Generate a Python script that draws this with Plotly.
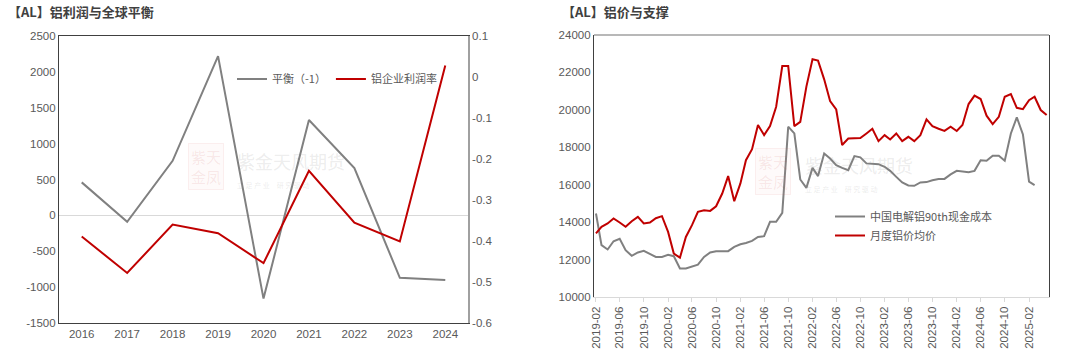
import plotly.graph_objects as go
import pandas as pd

# ---------------- Left chart data ----------------
years = ["2016", "2017", "2018", "2019", "2020", "2021", "2022", "2023", "2024"]
balance_neg = [460, -90, 760, 2220, -1160, 1330, 660, -870, -900]          # 平衡（-1）
profit_rate = [-0.389, -0.478, -0.360, -0.381, -0.454, -0.229, -0.355, -0.401, 0.028]  # 铝企业利润率

left_y_vals = [2500, 2000, 1500, 1000, 500, 0, -500, -1000, -1500]
left_y_text = ["2500", "2000", "1500", "1000", "500", "0", "-500", "-1000", "-1500"]
right_y_vals = [0.1, 0.0, -0.1, -0.2, -0.3, -0.4, -0.5, -0.6]
right_y_text = ["0.1", "0", "-0.1", "-0.2", "-0.3", "-0.4", "-0.5", "-0.6"]

# ---------------- Right chart data ----------------
months_price = pd.date_range("2019-02-01", periods=76, freq="MS")
months_cost = pd.date_range("2019-02-01", periods=74, freq="MS")

price_avg = [  # 月度铝价均价
    13400, 13750, 13930, 14200, 13980, 13750, 14050, 14280, 13930, 13980, 14210,
    14320, 13480, 12320, 12100, 13210, 13840, 14550, 14640, 14600, 14850, 15530,
    16460, 15120, 16070, 17310, 17900, 19190, 18650, 19130, 20170, 22340, 22340,
    19130, 19360, 21240, 22700, 22630, 21630, 20470, 20020, 18120, 18470, 18490,
    18490, 18740, 18990, 18330, 18650, 18420, 18740, 18330, 18560, 18330, 18650,
    19490, 19130, 18990, 18880, 19100, 18870, 19190, 20310, 20760, 20580, 19690,
    19240, 19630, 20700, 20840, 20110, 20040, 20520, 20700, 19990, 19720,
]
cost_90th = [  # 中国电解铝90th现金成本
    14460, 12770, 12540, 12980, 13110, 12500, 12200, 12380, 12470, 12290, 12140,
    12140, 12250, 12180, 11520, 11520, 11610, 11730, 12140, 12380, 12450, 12450,
    12450, 12680, 12820, 12890, 13000, 13210, 13250, 14020, 14020, 14500, 19100,
    18740, 16280, 15830, 16900, 16460, 17670, 17400, 17050, 16900, 16780, 17530,
    17460, 17140, 17140, 17100, 16960, 16740, 16420, 16120, 15960, 15940, 16120,
    16140, 16240, 16310, 16310, 16550, 16740, 16720, 16670, 16740, 17310, 17280,
    17550, 17550, 17280, 18740, 19600, 18690, 16160, 15980,
]

GRAY = "#808080"
RED = "#C00000"
TICK = "#595959"
DARK = "#404040"
FONT = "Liberation Sans, Noto Sans CJK SC, sans-serif"
CJK = "Noto Sans CJK SC, sans-serif"

fig = go.Figure()

fig.add_trace(go.Scatter(x=years, y=balance_neg, mode="lines", name="平衡（-1）",
                         line=dict(color=GRAY, width=2), xaxis="x", yaxis="y",
                         legend="legend"))
fig.add_trace(go.Scatter(x=years, y=profit_rate, mode="lines", name="铝企业利润率",
                         line=dict(color=RED, width=2), xaxis="x", yaxis="y2",
                         legend="legend"))
fig.add_trace(go.Scatter(x=months_cost, y=cost_90th, mode="lines", name="中国电解铝90th现金成本",
                         line=dict(color=GRAY, width=2), xaxis="x3", yaxis="y3",
                         legend="legend2"))
fig.add_trace(go.Scatter(x=months_price, y=price_avg, mode="lines", name="月度铝价均价",
                         line=dict(color=RED, width=2), xaxis="x3", yaxis="y3",
                         legend="legend2"))

W, H = 1080, 358
lx0, lx1 = 59 / W, 468 / W
ly0, ly1 = 1 - 323 / H, 1 - 36 / H
rx0, rx1 = 594 / W, 1049 / W
ry0, ry1 = 1 - 297 / H, 1 - 35 / H

tickfont = dict(family=FONT, size=11.5, color=TICK)

fig.update_layout(
    width=W, height=H,
    margin=dict(l=0, r=0, t=0, b=0, autoexpand=False),
    paper_bgcolor="white", plot_bgcolor="white",
    showlegend=True,
    xaxis=dict(domain=[lx0, lx1], anchor="y", type="category", range=[-0.5, 8.5],
               showgrid=False, zeroline=False, showline=True, linecolor=DARK,
               linewidth=1.2, mirror=True, ticks="", tickfont=tickfont, automargin=False),
    yaxis=dict(domain=[ly0, ly1], anchor="x", range=[-1500, 2500],
               tickvals=left_y_vals, ticktext=left_y_text,
               showgrid=False, zeroline=True, zerolinecolor="#D9D9D9", zerolinewidth=1,
               showline=True, linecolor=DARK, linewidth=1.2, ticks="",
               tickfont=tickfont, automargin=False),
    yaxis2=dict(anchor="x", overlaying="y", side="right", range=[-0.6, 0.1],
                tickvals=right_y_vals, ticktext=right_y_text,
                showgrid=False, zeroline=False, showline=True, linecolor="#A0A0A0",
                linewidth=1.5, ticks="", tickfont=tickfont, automargin=False),
    xaxis3=dict(domain=[rx0, rx1], anchor="y3", type="date",
                range=["2019-01-22", "2025-05-13"],
                tick0="2019-02-01", dtick="M4", tickformat="%Y-%m", tickangle=-90,
                showgrid=False, zeroline=False, showline=True, linecolor="#D9D9D9",
                ticks="outside", ticklen=4, tickcolor="#D9D9D9", tickfont=tickfont,
                automargin=False),
    yaxis3=dict(domain=[ry0, ry1], anchor="x3", range=[10000, 24000], dtick=2000,
                showgrid=False, zeroline=False, showline=True, linecolor=DARK,
                linewidth=1.2, mirror=True, ticks="", tickformat="d",
                tickfont=tickfont, automargin=False),
    legend=dict(orientation="h", x=232 / W, y=1 - 79 / H, xanchor="left", yanchor="middle",
                bgcolor="rgba(0,0,0,0)", font=dict(family=CJK, size=11, color=TICK),
                itemwidth=30, tracegroupgap=0),
    legend2=dict(orientation="v", x=830 / W, y=1 - 226 / H, xanchor="left", yanchor="middle",
                 bgcolor="rgba(0,0,0,0)", font=dict(family=CJK, size=11, color=TICK),
                 itemwidth=30, tracegroupgap=0),
)

fig.add_shape(type="line", xref="x3 domain", yref="y3 domain", x0=0, x1=1, y0=1, y1=1,
              line=dict(color="#A0A0A0", width=1.5))

fig.add_annotation(text="<b>【AL】铝利润与全球平衡</b>", xref="paper", yref="paper",
                   x=6 / W, y=1 - 12 / H, xanchor="left", yanchor="middle", showarrow=False,
                   font=dict(family=CJK, size=13, color=DARK))
fig.add_annotation(text="<b>【AL】铝价与支撑</b>", xref="paper", yref="paper",
                   x=560 / W, y=1 - 12 / H, xanchor="left", yanchor="middle", showarrow=False,
                   font=dict(family=CJK, size=13, color=DARK))

for sx, tx, dy in [(188, 235, 0), (755, 803, 4)]:
    fig.add_annotation(text="紫天<br>金凤", xref="paper", yref="paper",
                       x=sx / W, y=1 - (167 + dy) / H,
                       xanchor="left", yanchor="middle", showarrow=False,
                       font=dict(family=CJK, size=15, color="rgba(200,60,60,0.11)"),
                       bordercolor="rgba(200,60,60,0.08)", borderwidth=1, borderpad=2,
                       bgcolor="rgba(230,150,150,0.05)")
    fig.add_annotation(text="紫金天风期货", xref="paper", yref="paper",
                       x=tx / W, y=1 - (161 + dy) / H,
                       xanchor="left", yanchor="middle", showarrow=False,
                       font=dict(family=CJK, size=18, color="rgba(150,150,150,0.18)"))
    fig.add_annotation(text="立 足 产 业　研 究 驱 动", xref="paper", yref="paper",
                       x=tx / W, y=1 - (185 + dy) / H,
                       xanchor="left", yanchor="middle", showarrow=False,
                       font=dict(family=CJK, size=7, color="rgba(150,150,150,0.2)"))

fig.write_html("out.html", config={"displayModeBar": False},
               post_script="document.body.style.margin='0px';document.body.style.overflow='hidden';")
